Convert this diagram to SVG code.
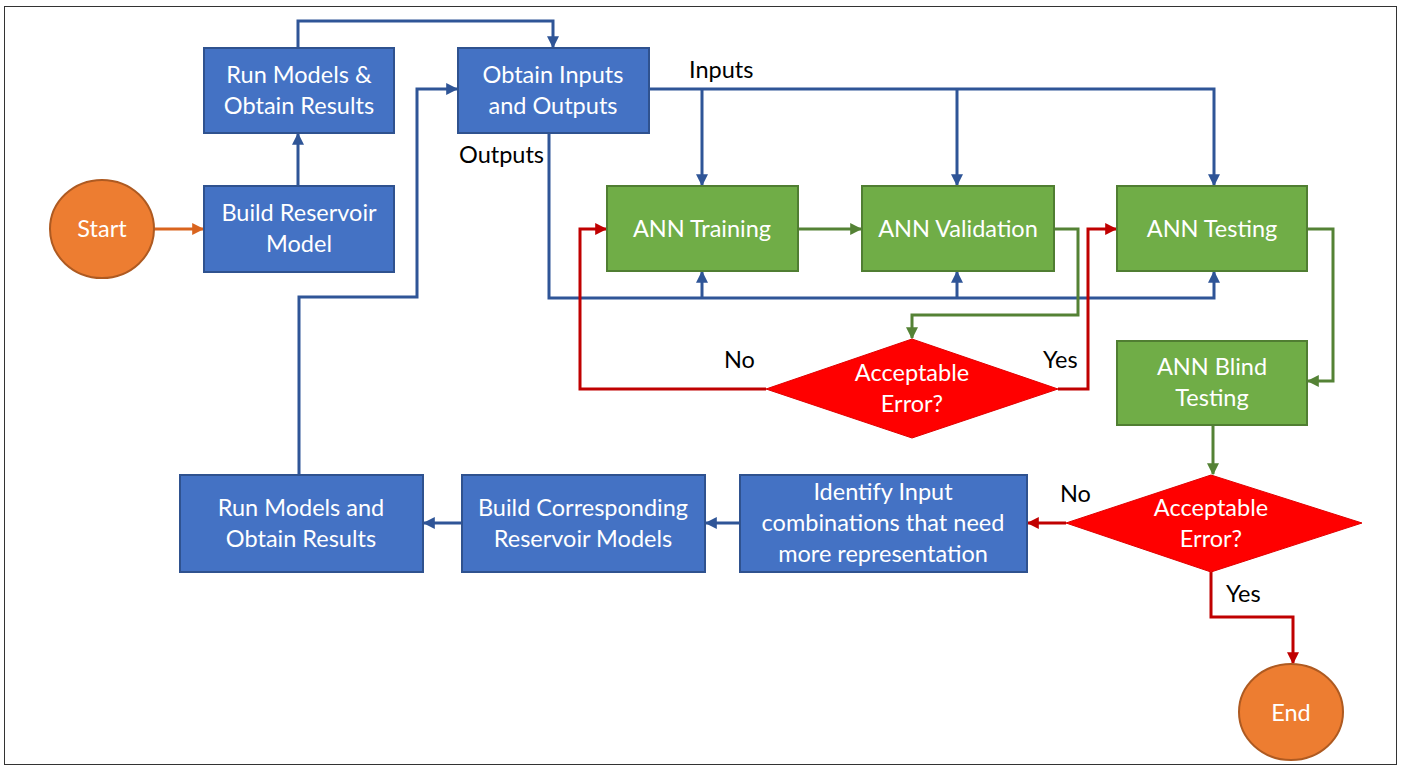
<svg xmlns="http://www.w3.org/2000/svg" width="1401" height="769" viewBox="0 0 1401 769">
<style>
.t{font-family:Lato,"Open Sans","Liberation Sans",sans-serif;font-size:23.5px;fill:#fff;text-anchor:middle}
.l{font-family:Lato,"Open Sans","Liberation Sans",sans-serif;font-size:23.5px;fill:#000}
.b{fill:#4472C4;stroke:#2F528F;stroke-width:2}
.g{fill:#70AD47;stroke:#507E32;stroke-width:2}
.d{fill:#FF0000;stroke:#E00000;stroke-width:1}
.o{fill:#ED7D31;stroke:#AE5A21;stroke-width:2}
.cb{fill:none;stroke:#2F5597;stroke-width:3}
.cg{fill:none;stroke:#548235;stroke-width:3}
.cr{fill:none;stroke:#C00000;stroke-width:3}
.co{fill:none;stroke:#D9641E;stroke-width:3}
</style>
<defs>
<marker id="ab" viewBox="0 0 10 10" refX="9" refY="5" markerWidth="4" markerHeight="4" orient="auto"><path d="M0,0 L10,5 L0,10 z" fill="#2F5597"/></marker>
<marker id="ag" viewBox="0 0 10 10" refX="9" refY="5" markerWidth="4" markerHeight="4" orient="auto"><path d="M0,0 L10,5 L0,10 z" fill="#548235"/></marker>
<marker id="ar" viewBox="0 0 10 10" refX="9" refY="5" markerWidth="4" markerHeight="4" orient="auto"><path d="M0,0 L10,5 L0,10 z" fill="#C00000"/></marker>
<marker id="ao" viewBox="0 0 10 10" refX="9" refY="5" markerWidth="4" markerHeight="4" orient="auto"><path d="M0,0 L10,5 L0,10 z" fill="#D9641E"/></marker>
</defs>
<rect x="0" y="0" width="1401" height="769" fill="#fff"/>
<rect x="4.5" y="6.5" width="1392" height="758" fill="none" stroke="#333" stroke-width="1"/>

<g id="connectors">
<path class="co" d="M154,229 H203" marker-end="url(#ao)"/>
<path class="cb" d="M298,186 V134" marker-end="url(#ab)"/>
<path class="cb" d="M298,48 V21 H553 V47" marker-end="url(#ab)"/>
<path class="cb" d="M299,475 V297 H417 V89 H457" marker-end="url(#ab)"/>
<path class="cb" d="M649,89 H1214 V185"  marker-end="url(#ab)"/>
<path class="cb" d="M702,89 V185" marker-end="url(#ab)"/>
<path class="cb" d="M957,89 V185" marker-end="url(#ab)"/>
<path class="cb" d="M549,133 V298 H1214 V272" marker-end="url(#ab)"/>
<path class="cb" d="M702,298 V272" marker-end="url(#ab)"/>
<path class="cb" d="M957,298 V272" marker-end="url(#ab)"/>
<path class="cg" d="M798,229 H861" marker-end="url(#ag)"/>
<path class="cg" d="M1054,229 H1078 V315 H912 V338" marker-end="url(#ag)"/>
<path class="cr" d="M766,389 H580 V229 H606" marker-end="url(#ar)"/>
<path class="cr" d="M1058,389 H1088 V229 H1116" marker-end="url(#ar)"/>
<path class="cg" d="M1307,229 H1333 V381 H1308" marker-end="url(#ag)"/>
<path class="cg" d="M1213,425 V474" marker-end="url(#ag)"/>
<path class="cr" d="M1066,523 H1028" marker-end="url(#ar)"/>
<path class="cr" d="M1211,572 V617 H1293 V663" marker-end="url(#ar)"/>
<path class="cb" d="M740,523 H706" marker-end="url(#ab)"/>
<path class="cb" d="M462,523 H424" marker-end="url(#ab)"/>
<text class="l" x="689" y="78">Inputs</text>
<text class="l" x="459" y="163">Outputs</text>
<text class="l" x="724" y="368">No</text>
<text class="l" x="1043" y="368">Yes</text>
<text class="l" x="1060" y="502">No</text>
<text class="l" x="1226" y="602">Yes</text>
</g>

<g id="start"><ellipse class="o" cx="102" cy="229" rx="52" ry="49"/><text class="t" x="102" y="237">Start</text></g>
<g id="build-reservoir"><rect class="b" x="204" y="186" width="190" height="86"/><text class="t" x="299" y="221">Build Reservoir</text><text class="t" x="299" y="252">Model</text></g>
<g id="run-models-1"><rect class="b" x="204" y="48" width="190" height="85"/><text class="t" x="299" y="83">Run Models &amp;</text><text class="t" x="299" y="114">Obtain Results</text></g>
<g id="obtain-io"><rect class="b" x="458" y="48" width="191" height="85"/><text class="t" x="553" y="83">Obtain Inputs</text><text class="t" x="553" y="114">and Outputs</text></g>
<g id="ann-training"><rect class="g" x="607" y="186" width="191" height="85"/><text class="t" x="702" y="237">ANN Training</text></g>
<g id="ann-validation"><rect class="g" x="862" y="186" width="192" height="85"/><text class="t" x="958" y="237">ANN Validation</text></g>
<g id="ann-testing"><rect class="g" x="1117" y="186" width="190" height="85"/><text class="t" x="1212" y="237">ANN Testing</text></g>
<g id="decision-1"><polygon class="d" points="912,339 1058,389 912,438 766,389"/><text class="t" x="912" y="381">Acceptable</text><text class="t" x="912" y="412">Error?</text></g>
<g id="ann-blind"><rect class="g" x="1117" y="341" width="190" height="84"/><text class="t" x="1212" y="375">ANN Blind</text><text class="t" x="1212" y="406">Testing</text></g>
<g id="decision-2"><polygon class="d" points="1211,475 1362,523 1211,572 1066,523"/><text class="t" x="1211" y="516">Acceptable</text><text class="t" x="1211" y="547">Error?</text></g>
<g id="end"><ellipse class="o" cx="1291" cy="712" rx="52" ry="48"/><text class="t" x="1291" y="721">End</text></g>
<g id="identify"><rect class="b" x="740" y="475" width="287" height="97"/><text class="t" x="883" y="500">Identify Input</text><text class="t" x="883" y="531">combinations that need</text><text class="t" x="883" y="562">more representation</text></g>
<g id="build-corresponding"><rect class="b" x="462" y="475" width="243" height="97"/><text class="t" x="583" y="516">Build Corresponding</text><text class="t" x="583" y="547">Reservoir Models</text></g>
<g id="run-models-2"><rect class="b" x="180" y="475" width="243" height="97"/><text class="t" x="301" y="516">Run Models and</text><text class="t" x="301" y="547">Obtain Results</text></g>
</svg>
